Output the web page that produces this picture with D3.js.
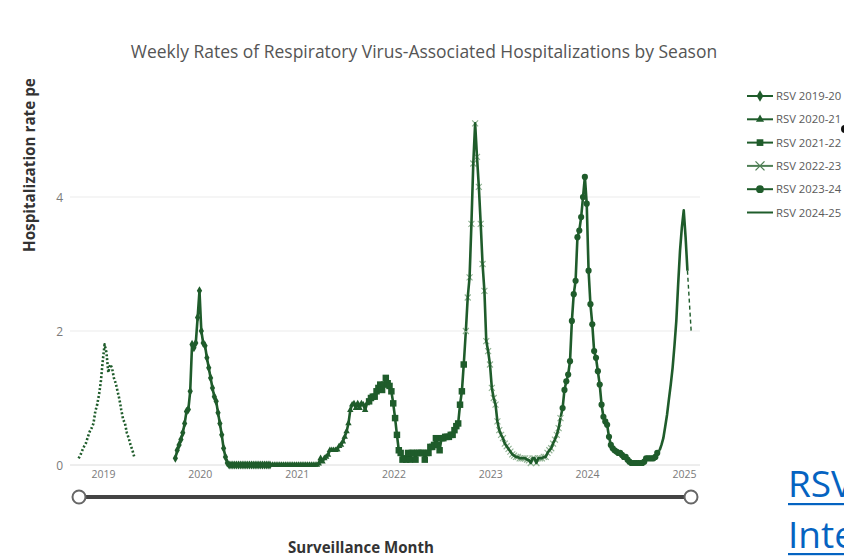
<!DOCTYPE html>
<html><head><meta charset="utf-8">
<script src="https://cdn.jsdelivr.net/npm/d3@7"></script>
<style>body{margin:0;background:#fff;overflow:hidden} svg{display:block}</style>
</head><body><svg id="c" width="844" height="556"></svg>
<script>
// ---------------- data ----------------
const yearTicks = [2019, 2020, 2021, 2022, 2023, 2024, 2025];
const yTicks = [0, 2, 4];
const seasonNames = ["RSV 2018-19", "RSV 2019-20", "RSV 2020-21", "RSV 2021-22", "RSV 2022-23", "RSV 2023-24", "RSV 2024-25"];
const seasonStarts = ["2018-10-01", "2019-10-01", "2020-10-01", "2021-10-01", "2022-10-01", "2023-10-01", "2024-10-01"];
const legendNames = ["RSV 2019-20", "RSV 2020-21", "RSV 2021-22", "RSV 2022-23", "RSV 2023-24", "RSV 2024-25"];

const rsv2018_19 = [0.10,0.15,0.22,0.28,0.33,0.42,0.50,0.55,0.62,0.80,0.90,1.05,1.25,1.55,1.80,1.68,1.38,1.50,1.45,1.30,1.22,1.10,0.98,0.82,0.68,0.62,0.48,0.40,0.30,0.22,0.12];
const rsv2019_20 = [0.10,0.22,0.30,0.38,0.48,0.62,0.80,0.83,1.10,1.80,1.75,1.82,2.20,2.60,2.00,1.82,1.78,1.60,1.45,1.30,1.15,1.02,0.95,0.78,0.62,0.45,0.25,0.12,0.03,0,0,0,0,0,0,0,0,0,0,0,0,0,0,0,0,0,0,0,0,0,0,0];
const rsv2020_21 = [0,0,0,0,0,0,0,0,0,0,0,0,0,0,0,0,0,0,0,0,0,0,0,0,0,0.02,0.10,0.05,0.10,0.12,0.15,0.22,0.22,0.22,0.22,0.23,0.28,0.30,0.35,0.42,0.50,0.62,0.82,0.90,0.92,0.85,0.92,0.85,0.92,0.90,0.82,0.92];
const rsv2021_22 = [0.95,1.00,1.02,1.02,1.10,1.15,1.20,1.12,1.20,1.30,1.22,1.18,1.10,0.92,0.70,0.45,0.22,0.18,0.08,0.10,0.08,0.18,0.08,0.18,0.18,0.08,0.18,0.18,0.18,0.18,0.08,0.18,0.18,0.27,0.27,0.30,0.40,0.30,0.22,0.40,0.40,0.42,0.42,0.42,0.45,0.45,0.52,0.58,0.62,0.90,1.10,1.50];
const rsv2022_23 = [2.00,2.50,2.80,3.60,4.50,5.10,4.60,4.15,3.60,3.00,2.60,1.85,1.70,1.50,1.15,1.00,0.90,0.65,0.52,0.45,0.40,0.32,0.28,0.24,0.20,0.16,0.14,0.12,0.12,0.10,0.10,0.10,0.10,0.08,0.07,0.03,0.10,0.10,0.03,0.10,0.10,0.10,0.12,0.12,0.18,0.22,0.25,0.32,0.38,0.45,0.55,0.70];
const rsv2023_24 = [0.85,1.12,1.25,1.35,1.55,2.15,2.55,2.75,3.40,3.50,3.70,4.00,4.30,3.90,2.90,2.40,2.10,1.70,1.60,1.40,1.20,0.90,0.72,0.65,0.60,0.42,0.30,0.25,0.22,0.20,0.18,0.18,0.15,0.12,0.12,0.08,0.05,0.03,0.03,0.03,0.03,0.03,0.03,0.03,0.05,0.10,0.10,0.10,0.10,0.10,0.12,0.18];
const rsv2024_25 = [0.22,0.30,0.40,0.57,0.75,0.98,1.20,1.45,1.78,2.15,2.70,3.20,3.55,3.80,3.40,2.90];
const rsv2024_25PrelimWeeks = [15, 17];
const rsv2024_25Prelim = [2.90, 2.00];

const seasonValues = [rsv2018_19, rsv2019_20, rsv2020_21, rsv2021_22, rsv2022_23, rsv2023_24, rsv2024_25];
const seasonMarkers = ["dots", "diamond", "triangle", "square", "cross", "circle", "none"];

// ---------------- drawing ----------------
const W = 844, H = 556;
const GREEN = "#1f5c2b";
const LIGHT = "#8fb292";
const svg = d3.select("#c");
svg.append("rect").attr("width", W).attr("height", H).attr("fill", "#fff");

const parse = d3.timeParse("%Y-%m-%d");
const x = d3.scaleTime().domain([new Date(2019,0,1), new Date(2025,0,1)]).range([103, 684]);
const y = d3.scaleLinear().domain([0, 4]).range([465, 197]);
const FONT = "'Open Sans', sans-serif";

function fit(sel, w) {
  const l = sel.node().getComputedTextLength();
  const fs = parseFloat(sel.attr("font-size"));
  sel.attr("font-size", fs * w / l);
}

// gridlines
svg.append("g").selectAll("line").data(yTicks).join("line")
  .attr("x1", 70).attr("x2", 700)
  .attr("y1", d => y(d)).attr("y2", d => y(d))
  .attr("stroke", d => d === 0 ? "#dcdcdc" : "#ebebeb").attr("stroke-width", 1);

// y axis labels
const yAx = svg.append("g").attr("transform", "translate(63,0)")
  .call(d3.axisLeft(y).tickValues(yTicks).tickSize(0).tickPadding(0).tickFormat(d3.format("d")));
yAx.select(".domain").remove();
yAx.selectAll("text").attr("font-family", FONT).attr("font-size", 12).attr("fill", "#7a7a7a").attr("dy", "0.35em");

// x axis labels
const xAx = svg.append("g").attr("transform", "translate(0,469)")
  .call(d3.axisBottom(x).tickValues(yearTicks.map(t => new Date(t,0,1))).tickSize(0).tickPadding(0).tickFormat(d3.timeFormat("%Y")));
xAx.select(".domain").remove();
xAx.selectAll("text").attr("font-family", FONT).attr("font-size", 10.5).attr("fill", "#7a7a7a").attr("dy", "0.9em");

// title
const title = svg.append("text").attr("x", 424).attr("y", 58).attr("text-anchor", "middle")
  .attr("font-family", FONT).attr("font-size", 18).attr("fill", "#555")
  .text("Weekly Rates of Respiratory Virus-Associated Hospitalizations by Season");
fit(title, 587);

// y axis title
const yt = svg.append("text").attr("transform", "translate(35,252) rotate(-90)")
  .attr("font-family", FONT).attr("font-weight", "bold").attr("font-size", 14).attr("fill", "#333")
  .text("Hospitalization rate pe");
fit(yt, 174);
svg.append("clipPath").attr("id", "frag").append("rect").attr("x", 28).attr("y", 10).attr("width", 6).attr("height", 15);
svg.append("text").attr("clip-path", "url(#frag)").attr("transform", "translate(36,24) rotate(-90)")
  .attr("font-family", FONT).attr("font-weight", "bold").attr("font-size", 14).attr("fill", "#333").text("0)");

// x axis title
const xt = svg.append("text").attr("x", 361).attr("y", 553).attr("text-anchor", "middle")
  .attr("font-family", FONT).attr("font-weight", "bold").attr("font-size", 14).attr("fill", "#333")
  .text("Surveillance Month");
fit(xt, 146);

// slider
svg.append("line").attr("x1", 79).attr("x2", 691).attr("y1", 497).attr("y2", 497).attr("stroke", "#444").attr("stroke-width", 4);
svg.selectAll("circle.knob").data([79, 691]).join("circle").attr("class", "knob")
  .attr("cx", d => d).attr("cy", 497).attr("r", 6.5).attr("fill", "#fff").attr("stroke", "#666").attr("stroke-width", 2);

// markers
function marker(g, type, big) {
  const k = big ? 1.6 : 1;
  if (type === "diamond") g.append("path").attr("d", d3.symbol(d3.symbolDiamond, 24 * k)()).attr("fill", GREEN);
  else if (type === "triangle") g.append("path").attr("d", d3.symbol(d3.symbolTriangle, 18 * k)()).attr("fill", GREEN);
  else if (type === "square") g.append("path").attr("d", d3.symbol(d3.symbolSquare, (big ? 28 : 42) * k)()).attr("fill", GREEN);
  else if (type === "circle") g.append("path").attr("d", d3.symbol(d3.symbolCircle, 30 * k)()).attr("fill", GREEN);
  else if (type === "cross") {
    const r = big ? 4.5 : 3;
    g.append("path").attr("d", `M${-r},${-r}L${r},${r}M${-r},${r}L${r},${-r}`)
      .attr("stroke", big ? "#4f7f55" : LIGHT).attr("stroke-width", big ? 1.3 : 1.1).attr("fill", "none");
  }
}

const line = d3.line().x(d => x(d.date)).y(d => y(d.v));
const plot = svg.append("g");
const seasons = seasonValues.map((vals, s) => {
  const start = parse(seasonStarts[s]);
  return vals.map((v, i) => ({ date: d3.timeWeek.offset(start, i), v }));
});

// connectors between consecutive seasons (continuous weekly series)
for (let s = 1; s < seasons.length - 1; s++) {
  const a = seasons[s][seasons[s].length - 1], b = seasons[s + 1][0];
  plot.append("path").datum([a, b]).attr("d", line).attr("fill", "none")
    .attr("stroke", GREEN).attr("stroke-width", 2.6);
}

seasons.forEach((data, s) => {
  const type = seasonMarkers[s];
  if (type === "cross") {
    plot.append("g").selectAll("g").data(data).join("g")
      .attr("transform", d => `translate(${x(d.date)},${y(d.v)})`)
      .each(function () { marker(d3.select(this), type, false); });
  }
  const path = plot.append("path").datum(data).attr("d", line).attr("fill", "none")
    .attr("stroke", GREEN).attr("stroke-width", 2.6).attr("stroke-linejoin", "round");
  if (type === "dots") path.attr("stroke-dasharray", "2,2").attr("stroke-width", 2.6);
  if (type !== "dots" && type !== "none" && type !== "cross") {
    plot.append("g").selectAll("g").data(data).join("g")
      .attr("transform", d => `translate(${x(d.date)},${y(d.v)})`)
      .each(function () { marker(d3.select(this), type, false); });
  }
  if (s === 6) {
    const start = parse(seasonStarts[s]);
    const pdata = rsv2024_25Prelim.map((v, i) => ({ date: d3.timeWeek.offset(start, rsv2024_25PrelimWeeks[i]), v }));
    plot.append("path").datum(pdata).attr("d", line).attr("fill", "none")
      .attr("stroke", GREEN).attr("stroke-width", 1.4).attr("stroke-dasharray", "4,3");
  }
});

// legend
const lg = svg.append("g");
legendNames.forEach((name, i) => {
  const yy = 96 + i * 23.3;
  const g = lg.append("g").attr("transform", `translate(0,${yy})`);
  g.append("line").attr("x1", 747).attr("x2", 773).attr("y1", 0).attr("y2", 0)
    .attr("stroke", i === 3 ? "#4f7f55" : GREEN).attr("stroke-width", 2);
  const mg = g.append("g").attr("transform", "translate(760,0)");
  marker(mg, seasonMarkers[i + 1], true);
  g.append("text").attr("x", 776).attr("y", 4).attr("font-family", FONT)
    .attr("font-size", 11.3).attr("fill", "#5a5a5a").text(name);
});
svg.append("circle").attr("cx", 845).attr("cy", 129).attr("r", 4).attr("fill", "#111");

// link text bottom right
const link = svg.append("g").attr("font-family", FONT).attr("fill", "#0563c1");
link.append("text").attr("x", 788).attr("y", 497).attr("font-size", 37).text("RSV");
link.append("text").attr("x", 788).attr("y", 548).attr("font-size", 37).text("Inte");
link.append("rect").attr("x", 788).attr("y", 503).attr("width", 60).attr("height", 2.2);
link.append("rect").attr("x", 788).attr("y", 553).attr("width", 60).attr("height", 2.2);
</script></body></html>
